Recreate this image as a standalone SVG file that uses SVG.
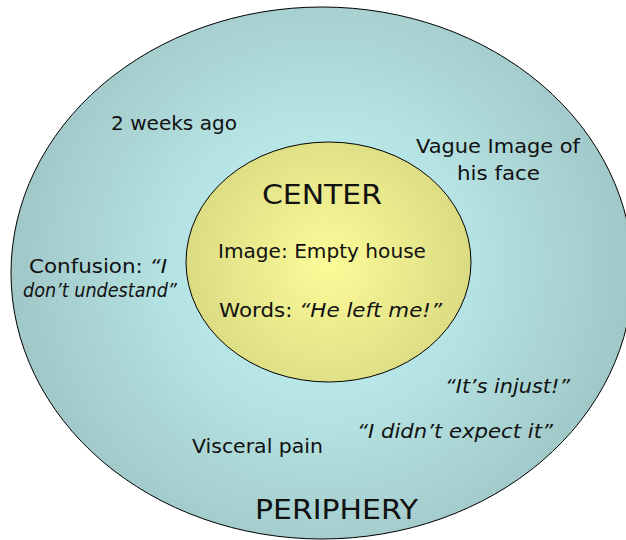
<svg xmlns="http://www.w3.org/2000/svg" width="626" height="540" viewBox="0 0 626 540">
<style>
text{font-family:"DejaVu Sans","Liberation Sans",sans-serif;fill:#111}
.s{font-size:20px}
.i{font-style:italic}
.big{font-size:26px}
</style>
<defs>
<radialGradient id="gOuter" gradientUnits="userSpaceOnUse" cx="322" cy="265" r="315">
<stop offset="0" stop-color="#c4f4f4"/>
<stop offset="0.45" stop-color="#b6e4e4"/>
<stop offset="1" stop-color="#a0c6c6"/>
</radialGradient>
<radialGradient id="gInner" gradientUnits="userSpaceOnUse" cx="328" cy="262" r="145">
<stop offset="0" stop-color="#fcfc9a"/>
<stop offset="1" stop-color="#dada82"/>
</radialGradient>
</defs>
<g id="periphery">
<ellipse cx="322" cy="273" rx="311" ry="266" fill="url(#gOuter)" stroke="#000" stroke-width="1"/>
<text class="big" x="255" y="519" textLength="163" lengthAdjust="spacingAndGlyphs">PERIPHERY</text>
<text class="s" x="111" y="130" textLength="126" lengthAdjust="spacingAndGlyphs">2 weeks ago</text>
<text class="s" x="416" y="153" textLength="164" lengthAdjust="spacingAndGlyphs">Vague Image of</text>
<text class="s" x="457" y="180" textLength="83" lengthAdjust="spacingAndGlyphs">his face</text>
<text class="s" x="29" y="273" textLength="138" lengthAdjust="spacingAndGlyphs">Confusion: <tspan class="i">“I</tspan></text>
<text class="s i" x="23" y="297" textLength="154" lengthAdjust="spacingAndGlyphs">don’t undestand”</text>
<text class="s i" x="445" y="393" textLength="125" lengthAdjust="spacingAndGlyphs">“It’s injust!”</text>
<text class="s i" x="357" y="438" textLength="196" lengthAdjust="spacingAndGlyphs">“I didn’t expect it”</text>
<text class="s" x="192" y="453" textLength="131" lengthAdjust="spacingAndGlyphs">Visceral pain</text>
</g>
<g id="center">
<ellipse cx="328.5" cy="262" rx="142.5" ry="120" fill="url(#gInner)" stroke="#000" stroke-width="1"/>
<text class="big" x="262" y="204" textLength="120" lengthAdjust="spacingAndGlyphs">CENTER</text>
<text class="s" x="218" y="258" textLength="208" lengthAdjust="spacingAndGlyphs">Image: Empty house</text>
<text class="s" x="219" y="317" textLength="223" lengthAdjust="spacingAndGlyphs">Words: <tspan class="i">“He left me!”</tspan></text>
</g>
<g id="connectors"/>
</svg>
